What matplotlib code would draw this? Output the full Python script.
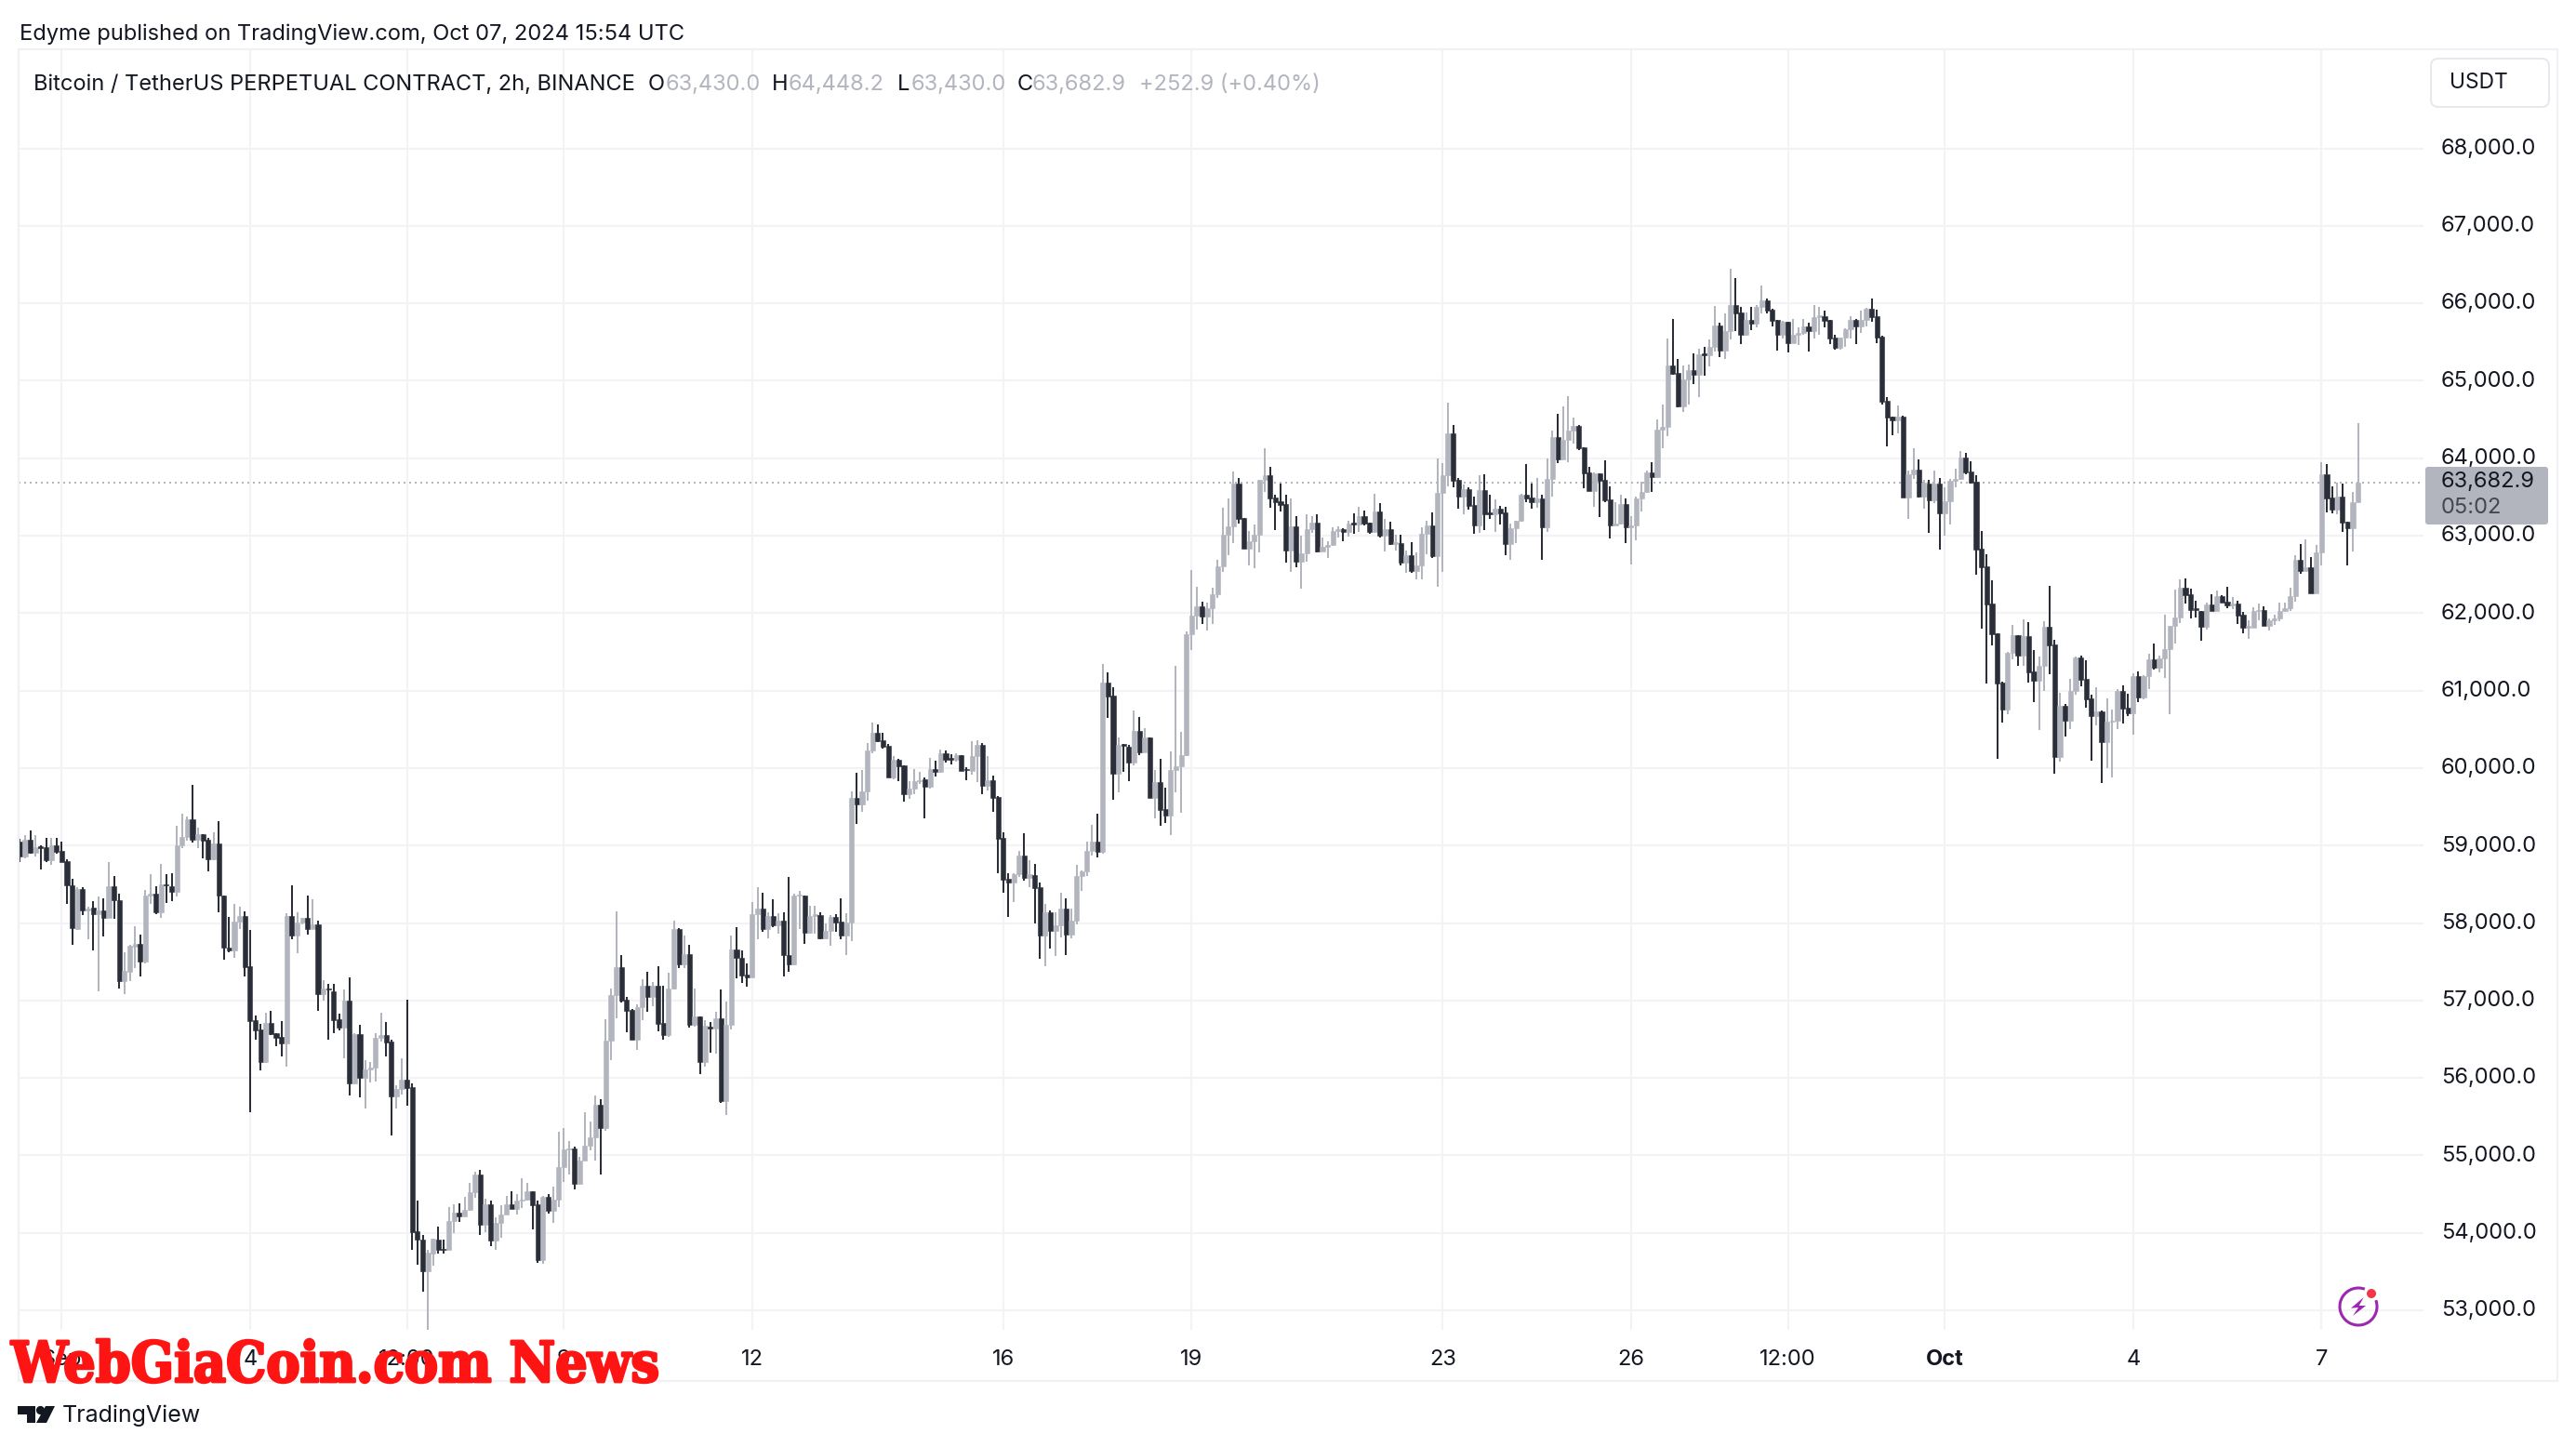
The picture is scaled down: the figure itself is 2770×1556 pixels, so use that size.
import matplotlib
matplotlib.use("Agg")
import matplotlib.pyplot as plt
import matplotlib.patheffects as pe
from matplotlib.patches import Arc, Circle, FancyBboxPatch, Polygon, Rectangle
from matplotlib.transforms import ScaledTranslation

open_ = [
59048,58856,59080,58904,58988,58976,58808,59008,58928,58796,
58492,57928,58436,58160,58196,58116,58168,58068,58472,58300,
57252,57368,57700,57736,57500,58352,58384,58136,58504,58480,
58400,59008,59108,59336,59076,59152,59072,58820,59024,58360,
57688,57648,58016,58088,57440,56740,56620,56204,56704,56572,
56524,56448,58088,57836,58008,58064,57920,57988,57084,57148,
57116,56756,56648,56996,55928,56564,56000,56108,56128,56516,
56548,56464,55760,55860,55972,55876,54016,53916,53504,53736,
53916,53796,53780,54148,54256,54212,54292,54520,54748,54100,
54372,53896,54132,54240,54364,54308,54412,54424,54532,54364,
53644,54468,54288,54424,54844,55072,55088,54628,54936,55128,
55236,55648,55348,56476,57064,57424,57004,56876,56488,56908,
57184,57040,57184,56704,56548,57148,57928,57472,57604,56680,
56788,56204,56664,56636,56764,55696,56680,57664,57556,57328,
57292,58120,58192,57928,58096,57976,58036,57588,57460,58356,
58356,57880,58092,58104,57804,57896,58080,58020,57840,58008,
59616,59532,59700,60228,60456,60360,60288,59880,60108,60036,
59664,59736,59832,59856,59760,59988,59952,60192,60132,60108,
60168,59988,59964,60156,60300,59772,59844,59628,59100,58572,
58524,58632,58872,58584,58620,58464,57840,58140,57900,57972,
58188,57852,58032,58608,58668,58932,59052,58920,61104,60936,
59928,60312,60276,60072,60480,60204,60396,59616,59820,59472,
59388,59976,60024,60168,61728,61968,62084,61952,62060,62244,
62604,63012,63120,63672,63228,62832,62924,63012,63720,63780,
63492,63440,63408,62808,63120,62664,62772,63084,63168,62792,
62852,62880,63060,63084,63048,63164,63144,63252,63168,63048,
63312,63000,63084,62892,62904,62652,62748,62544,62616,63024,
63132,62736,63552,63780,64320,63720,63504,63600,63396,63132,
63588,63296,63276,63348,63300,62892,63096,63192,63528,63492,
63432,63480,63108,63732,64272,63984,64236,64356,64416,64140,
63816,63576,63804,63720,63468,63132,63156,63408,63104,63128,
63476,63560,63816,63756,64368,64404,65196,65100,64668,65016,
65136,65076,65352,65328,65436,65712,65388,65640,65976,65880,
65592,65784,65736,65952,66036,65916,65784,65592,65760,65484,
65592,65616,65700,65640,65820,65832,65784,65556,65424,65556,
65664,65784,65700,65784,65928,65832,65568,64740,64532,64488,
64536,63492,63792,63852,63504,63672,63456,63672,63288,63444,
63708,63732,64008,63828,63696,62832,62604,62124,61740,61104,
60756,61488,61716,61452,61704,61248,61128,61320,61824,61596,
60144,60804,60612,60996,61428,61152,60900,60672,60732,60336,
60600,60612,60996,60780,60708,61188,60912,61188,61404,61296,
61416,61536,61836,61944,62328,62244,62064,62028,61824,62112,
62028,62220,62148,62100,62124,61980,61812,61812,62024,62044,
61836,61912,61928,62024,62060,62220,62688,62548,62592,62256,
62784,63792,63492,63336,63504,63180,63096,63430]

high = [
59088,59140,59200,59132,59000,59096,59096,59096,59048,58820,
58568,58460,58460,58208,58280,58340,58316,58784,58612,58384,
57620,57724,57956,57848,58432,58628,58472,58768,58628,58640,
59252,59408,59376,59780,59228,59152,59096,59168,59320,58360,
58076,58244,58208,58148,57908,56800,56696,56840,56860,56572,
56732,58124,58492,58140,58064,58360,58304,58036,57260,57212,
57212,56828,57140,57296,56576,56684,56228,56200,56576,56836,
56716,56488,55908,56248,57004,55924,54412,53968,53776,53928,
54076,53916,54336,54364,54384,54468,54640,54792,54816,54436,
54412,54196,54360,54472,54540,54504,54700,54640,54540,54412,
54476,54496,54600,55300,55348,55180,55116,54976,55552,55432,
55768,55720,56752,57148,58156,57592,57040,56884,56944,57268,
57364,57232,57436,57184,57352,58036,57940,57844,57724,57148,
56788,56740,56716,56848,57136,56980,57844,57952,57652,57484,
58276,58468,58396,58144,58312,58132,58144,58596,58380,58416,
58356,58224,58224,58140,57996,58104,58116,58320,58128,59700,
59940,59976,60324,60588,60564,60456,60312,60156,60120,60036,
59832,59988,59952,59880,60132,60096,60240,60228,60180,60192,
60168,60012,60348,60360,60324,60156,59904,59640,59172,58644,
58644,58932,59160,58812,58764,58524,58248,58164,58140,58392,
58320,58188,58752,58680,59052,59268,59412,61344,61236,61044,
60396,60312,60300,60744,60660,60516,60396,59976,60120,59748,
60216,61320,60468,61764,62556,62340,62148,62136,62328,62688,
63360,63480,63828,63744,63228,63060,63144,63720,64128,63888,
63528,63672,63528,63480,63252,63000,63276,63252,63276,62976,
62928,63108,63120,63096,63192,63288,63372,63324,63168,63540,
63420,63216,63180,63012,63012,62808,62916,62784,63108,63192,
63300,63996,63936,64716,64428,63744,63660,63624,63504,63780,
63792,63528,63468,63384,63368,63156,63192,63540,63924,63672,
63744,63528,63992,64356,64572,64668,64800,64524,64428,64140,
63888,63816,63804,63972,63636,63432,63528,63480,63248,63508,
63692,63840,63944,64500,64692,65544,65796,65280,65196,65208,
65352,65412,65436,65532,65964,65748,65868,66444,66324,65952,
65880,65952,65976,66228,66060,65928,65784,65772,65760,65796,
65688,65796,65748,65976,65952,65904,65784,65592,65556,65680,
65832,65796,65904,65940,66060,65916,65580,64788,64532,64680,
64548,63840,64128,63984,63720,63720,63840,63744,63624,63732,
63868,64092,64068,63960,63780,63060,62760,62424,61740,61116,
61500,61848,61716,61920,61884,61524,61440,61896,62352,61656,
60972,60828,61152,61440,61452,61392,60948,61044,60744,60900,
60756,61020,61068,60960,61224,61248,61200,61476,61608,61452,
61980,61836,62304,62436,62448,62316,62160,62028,62136,62244,
62292,62232,62340,62208,62160,62016,61908,62072,62124,62088,
61932,61976,62132,62132,62328,62748,62892,62952,62724,62884,
63948,63924,63636,63684,63672,63180,63560,64448.2]

low = [
58788,58836,58896,58856,58688,58784,58748,58892,58784,58248,
57716,57908,58100,57788,57644,57120,57828,58068,58060,57156,
57084,57252,57420,57308,57476,58248,58116,58068,58260,58280,
58340,58968,59068,59036,58968,58836,58664,58808,58140,57528,
57624,57556,57920,57308,55552,56496,56100,56196,56548,56412,
56276,56148,57788,57608,57980,57848,57920,56864,56996,56492,
56580,56612,56256,55776,55920,55752,55600,55940,55948,56468,
56276,55256,55604,55780,55640,53780,53588,53240,52740,53576,
53732,53732,53780,53996,54140,54212,54284,54448,53968,54008,
53828,53780,53932,54240,54308,54232,54316,54412,54044,53612,
53600,54248,54128,54328,54656,54752,54560,54620,54928,55060,
54932,54748,55316,56224,56764,56968,56584,56488,56356,56740,
56848,56920,56596,56488,56528,57136,57412,57412,56644,56656,
56044,56140,56320,56308,55672,55520,56620,57280,57220,57172,
57292,57796,57892,57808,57952,57868,57308,57364,57448,57924,
57732,57864,57868,57792,57792,57708,57888,57792,57588,57768,
59280,59436,59580,60192,60336,60252,59880,59856,59832,59568,
59604,59664,59796,59352,59736,59892,59940,60072,60048,60084,
59964,59844,59916,59820,59664,59712,59436,58644,58392,58080,
58272,58596,58548,58464,57996,57540,57444,57672,57576,57816,
57588,57804,57984,58416,58612,58872,58848,58896,60648,59592,
59688,59952,59832,60036,60168,60204,59616,59352,59256,59292,
59136,59688,59424,60160,61528,61784,61864,61776,61856,62196,
62532,62748,62904,63156,62832,62616,62580,62784,63564,63360,
63072,63312,62652,62532,62592,62316,62664,63036,62784,62792,
62712,62868,62976,62928,62988,63024,63048,63132,63024,63036,
62976,62796,62880,62808,62616,62520,62520,62436,62436,62760,
62712,62340,62532,63636,63624,63348,63276,63336,63024,63036,
63072,63216,63048,63144,62748,62688,62904,63180,63432,63348,
63360,62688,63048,63504,63936,63984,63948,64188,64104,63612,
63576,63372,63240,63432,62964,63132,63144,62900,62624,62940,
63308,63552,63564,63744,64128,64284,65076,64656,64596,64692,
64956,64788,65064,65184,65376,65304,65280,65532,65640,65472,
65580,65652,65688,65868,65868,65700,65388,65544,65364,65484,
65460,65592,65376,65544,65592,65688,65472,65400,65400,65440,
65544,65472,65616,65700,65760,65484,64692,64152,64296,64320,
63492,63216,63732,63492,63348,63036,63416,62816,63000,63140,
63620,63720,63792,63672,62496,61800,61092,61584,60120,60588,
60696,61404,61320,61320,61104,60852,60492,60996,61212,59928,
60084,60408,60504,60948,61056,60780,60096,60552,59808,60000,
59880,60504,60576,60672,60432,60852,60888,61020,61272,61236,
61164,60696,61608,61872,62124,61932,61944,61644,61788,62028,
62028,62136,62064,62052,61860,61740,61668,61812,61904,61836,
61776,61848,61892,62016,62024,62152,62512,62544,62256,62256,
62620,63304,63288,63276,63048,62616,62796,63430]

close = [
58856,59080,58904,58976,58968,58808,59008,58920,58784,58488,
57932,58436,58160,58188,58116,58168,58068,58472,58296,57252,
57376,57704,57736,57500,58352,58384,58136,58496,58484,58400,
59008,59108,59336,59076,59152,59064,58820,59024,58356,57684,
57648,58016,58088,57432,56736,56616,56208,56704,56564,56520,
56448,58088,57836,58008,58064,57920,57988,57084,57148,57136,
56748,56648,56996,55932,56568,56000,56108,56128,56516,56548,
56452,55760,55860,55972,55868,54008,53912,53504,53740,53928,
53780,53780,54148,54256,54212,54292,54520,54748,54100,54372,
53896,54132,54240,54364,54308,54412,54424,54532,54356,53644,
54468,54288,54424,54844,55072,55088,54628,54936,55128,55236,
55648,55348,56476,57064,57424,56992,56860,56488,56908,57184,
57040,57184,56692,56548,57148,57928,57472,57604,56680,56788,
56204,56668,56636,56764,55696,56680,57664,57548,57316,57292,
58120,58192,57928,58096,57976,58036,57584,57460,58356,58368,
57880,58092,58112,57804,57896,58080,58008,57840,58008,59616,
59532,59700,60228,60456,60348,60276,59880,60108,60024,59664,
59736,59832,59848,59760,59988,59952,60192,60108,60108,60168,
59964,59972,60156,60300,59772,59844,59616,59088,58560,58524,
58632,58872,58584,58632,58452,57840,58140,57900,57972,58188,
57852,58032,58608,58668,58932,59052,58920,61104,60924,59928,
60300,60292,60072,60480,60204,60396,59616,59820,59460,59388,
59976,60024,60168,61728,61968,62084,61952,62060,62244,62604,
63012,63120,63672,63216,62832,62924,63012,63720,63780,63480,
63432,63396,62808,63120,62664,62772,63084,63168,62792,62852,
62880,63060,63084,63048,63156,63144,63252,63156,63048,63312,
63000,63084,62892,62916,62652,62748,62544,62616,63024,63132,
62736,63552,63780,64320,63708,63504,63600,63384,63132,63588,
63276,63276,63348,63288,62892,63096,63192,63528,63480,63432,
63480,63108,63732,64272,63984,64236,64356,64416,64128,63804,
63576,63804,63708,63456,63132,63156,63408,63104,63128,63476,
63560,63816,63756,64368,64404,65196,65088,64668,65016,65136,
65076,65340,65328,65436,65712,65388,65640,65976,65868,65592,
65784,65736,65952,66036,65904,65772,65592,65760,65484,65592,
65616,65700,65640,65820,65840,65772,65544,65424,65556,65664,
65784,65700,65784,65928,65820,65556,64728,64524,64488,64536,
63492,63792,63852,63504,63684,63456,63672,63288,63444,63708,
63732,64008,63816,63684,62820,62592,62112,61728,61092,60756,
61488,61716,61452,61704,61236,61128,61320,61824,61584,60144,
60804,60612,60996,61428,61140,60888,60672,60732,60336,60600,
60612,60996,60768,60708,61188,60912,61188,61404,61296,61416,
61536,61836,61944,62328,62232,62040,62040,61824,62112,62028,
62220,62136,62100,62120,61968,61812,61836,62024,62044,61836,
61912,61928,62024,62060,62220,62688,62548,62592,62256,62784,
63792,63480,63336,63504,63168,63096,63432,63682.9]

tick_positions = [8, 44, 74, 104, 140, 188, 224, 272, 308, 338, 368, 404, 440]
tick_labels = ["Sep", "4", "12:00", "9", "12", "16", "19", "23", "26", "12:00", "Oct", "4", "7"]
price_ticks = list(range(53000, 69000, 1000))
last_price = 63682.9

UP, DOWN = "#B2B5BE", "#2A2E39"
GRID, BORDER, INK = "#F3F3F6", "#F0F1F5", "#131722"
FONT = "Inter"
W, H = 2770, 1556

plt.rcParams["font.family"] = [FONT, "DejaVu Sans"]
fig = plt.figure(figsize=(W / 100, H / 100), dpi=100, facecolor="white")

L, R, T, B = 20, 2606, 53, 1430
ax = fig.add_axes([L / W, 1 - B / H, (R - L) / W, (B - T) / H])
ax.set_xlim(-0.25, 459.5)
ax.set_ylim(52748, 69279)
for s in ax.spines.values():
    s.set_visible(False)

ax.set_axisbelow(True)
ax.grid(True, color=GRID, linewidth=1.5)
ax.set_xticks(tick_positions, tick_labels)
ax.set_yticks(price_ticks, [f"{p:,.1f}" for p in price_ticks])
ax.yaxis.tick_right()
ax.tick_params(axis="y", length=0, pad=13.5, labelsize=17, labelcolor=INK)
ax.tick_params(axis="x", length=0, pad=15, labelsize=17, labelcolor=INK)
for lbl, txt in zip(ax.get_xticklabels(), tick_labels):
    if txt == "Oct":
        lbl.set_fontweight("bold")
shift_up = ScaledTranslation(0, 2.2 / 100, fig.dpi_scale_trans)
for lbl in ax.get_yticklabels():
    lbl.set_transform(lbl.get_transform() + shift_up)

idx = list(range(len(close)))
cols = [UP if c >= o else DOWN for o, c in zip(open_, close)]
ax.axhline(last_price, color=UP, linewidth=1.44, linestyle=(0, (1, 2)), zorder=1.5)
ax.vlines(idx, low, high, colors=cols, linewidth=1.44, zorder=2)
ax.bar(idx, [abs(c - o) for o, c in zip(open_, close)],
       bottom=[min(o, c) for o, c in zip(open_, close)],
       width=0.92, color=cols, edgecolor=cols, linewidth=0.4, zorder=3)

# overlay in pixel coordinates for the page furniture
ov = fig.add_axes([0, 0, 1, 1], facecolor="none")
ov.set_xlim(0, W)
ov.set_ylim(H, 0)
ov.axis("off")

# pane border
ov.add_patch(Rectangle((20, 53), 2730, 1432, fill=False, edgecolor=BORDER, linewidth=1.6))

# header texts
ov.text(21, 37, "Edyme published on TradingView.com, Oct 07, 2024 15:54 UTC",
        fontsize=17.05, color=INK, va="center", ha="left")
ov.text(36, 91, "Bitcoin / TetherUS PERPETUAL CONTRACT, 2h, BINANCE",
        fontsize=17, color=INK, va="center", ha="left")
for x, t, c in [(697, "O", INK), (716, "63,430.0", UP), (830, "H", INK), (848, "64,448.2", UP),
                (965, "L", INK), (980, "63,430.0", UP), (1094, "C", INK), (1110, "63,682.9", UP),
                (1225, "+252.9 (+0.40%)", UP)]:
    ov.text(x, 91, t, fontsize=17, color=c, va="center", ha="left")

# currency button
ov.add_patch(FancyBboxPatch((2614, 63), 127, 52, boxstyle="round,pad=0,rounding_size=8",
                            facecolor="white", edgecolor="#E6E8EE", linewidth=1.4))
ov.text(2665, 89, "USDT", fontsize=16.4, color=INK, va="center", ha="center")

# last price tag
ov.add_patch(FancyBboxPatch((2608, 502), 132, 62, boxstyle="round,pad=0,rounding_size=3",
                            facecolor=UP, edgecolor="none"))
ov.text(2625, 518, f"{last_price:,.1f}", fontsize=17, color=INK, va="center", ha="left")
ov.text(2625, 546, "05:02", fontsize=17, color="#434651", va="center", ha="left")

# lightning badge
PURPLE = "#9C27B0"
ov.add_patch(Arc((2536, 1405), 40, 40, theta1=-20, theta2=290, color=PURPLE, linewidth=2.2))
ov.add_patch(Polygon([(2541.7, 1395), (2528, 1406.7), (2536, 1406), (2530, 1415),
                      (2544, 1404), (2536.7, 1404)], closed=True, color=PURPLE, linewidth=0))
ov.add_patch(Circle((2550, 1391), 5, color="#F23645", linewidth=0))

# TradingView logo
ov.add_patch(Polygon([(19, 1512), (38, 1512), (38, 1530), (29, 1530), (29, 1521), (19, 1521)],
                     closed=True, color=INK, linewidth=0))
ov.add_patch(Circle((43.5, 1516.5), 4.6, color=INK, linewidth=0))
ov.add_patch(Polygon([(49, 1512), (59, 1512), (50, 1530), (39, 1530)], closed=True, color=INK, linewidth=0))
ov.text(67, 1522.5, "TradingView", fontsize=18, color=INK, va="center", ha="left")

# watermark
ov.text(12, 1486, "WebGiaCoin.com News", fontsize=43.5, color="#FF1414", va="baseline", ha="left",
        family="DejaVu Serif", weight="bold", stretch="condensed", zorder=10,
        path_effects=[pe.withStroke(linewidth=2.0, foreground="#FF1414")])

fig.savefig("out.png", dpi=100, facecolor="white")
